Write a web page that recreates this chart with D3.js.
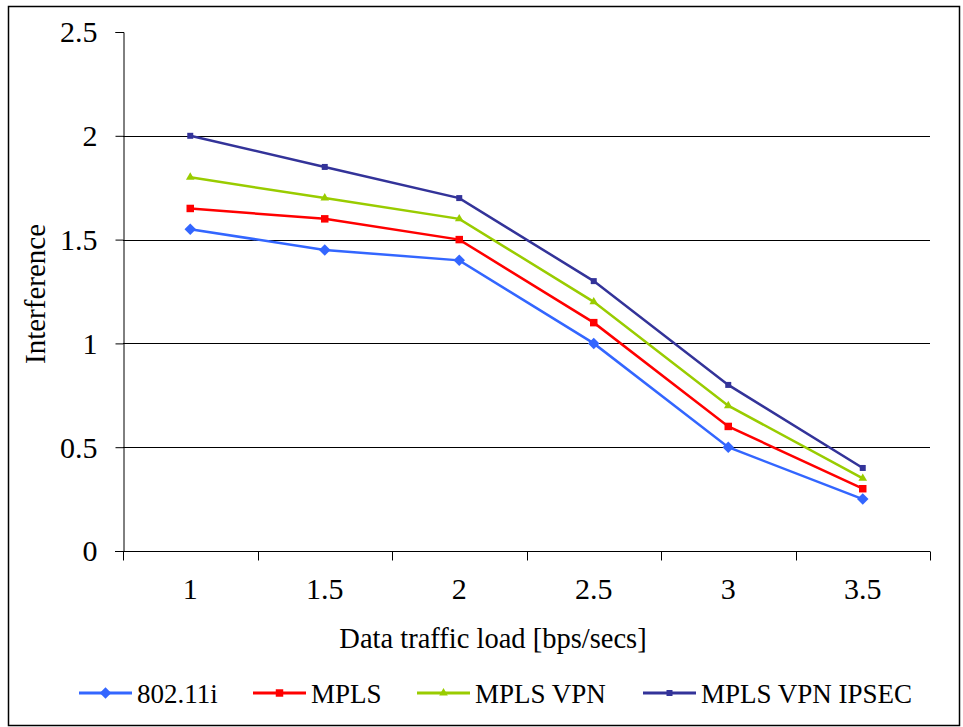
<!DOCTYPE html>
<html>
<head>
<meta charset="utf-8">
<script src="https://cdn.jsdelivr.net/npm/d3@7"></script>
<style>
  html, body { margin: 0; padding: 0; background: #fff; }
  svg, svg text { font-family: "Liberation Serif", "Times New Roman", serif; }
</style>
</head>
<body>
<svg id="chart" width="963" height="727"></svg>
<script>
// Data traffic load categories and interference per protocol
const loads = ["1", "1.5", "2", "2.5", "3", "3.5"];
const yTicks = [0, 0.5, 1, 1.5, 2, 2.5];
const seriesNames = ["802.11i", "MPLS", "MPLS VPN", "MPLS VPN IPSEC"];
const vals80211i = [1.55, 1.45, 1.4, 1.0, 0.5, 0.25];
const valsMpls = [1.65, 1.6, 1.5, 1.1, 0.6, 0.3];
const valsMplsVpn = [1.8, 1.7, 1.6, 1.2, 0.7, 0.35];
const valsIpsec = [2.0, 1.85, 1.7, 1.3, 0.8, 0.4];

const FONT = "'Liberation Serif', 'Times New Roman', serif";

const series = [
  { name: seriesNames[0], values: vals80211i, color: "#3366FF", marker: "diamond", size: 66 },
  { name: seriesNames[1], values: valsMpls, color: "#FF0000", marker: "square", size: 56 },
  { name: seriesNames[2], values: valsMplsVpn, color: "#99CC00", marker: "triangle", size: 32 },
  { name: seriesNames[3], values: valsIpsec, color: "#333399", marker: "square", size: 36 }
];

const svg = d3.select("#chart");

// outer frame
svg.append("rect")
  .attr("x", 8.5).attr("y", 6.5)
  .attr("width", 951).attr("height", 719)
  .attr("fill", "none").attr("stroke", "#000").attr("stroke-width", 1.5);

const plot = { left: 123, right: 930, top: 32, bottom: 551 };

const x = d3.scaleBand().domain(loads).range([plot.left, plot.right]).padding(0);
const y = d3.scaleLinear().domain([0, 2.5]).range([plot.bottom, plot.top]);

// horizontal gridlines
svg.append("g")
  .selectAll("line")
  .data(yTicks.filter(t => t > 0 && t < 2.5))
  .join("line")
  .attr("x1", plot.left).attr("x2", plot.right)
  .attr("y1", d => Math.round(y(d)) + 0.5).attr("y2", d => Math.round(y(d)) + 0.5)
  .attr("stroke", "#000").attr("stroke-width", 1);

// y axis
const yAxis = svg.append("g")
  .attr("transform", `translate(${plot.left + 0.5},0)`)
  .call(d3.axisLeft(y).tickValues(yTicks).tickSize(8).tickPadding(18)
    .tickFormat(d => String(d)));
yAxis.attr("font-family", FONT);
yAxis.select(".domain").attr("stroke", "#000");
yAxis.selectAll(".tick line").attr("stroke", "#000");
yAxis.selectAll(".tick text")
  .attr("font-size", 30).attr("fill", "#000")
  .attr("dy", "0.33em")
  .style("font-family", FONT);

// x axis: ticks at the category boundaries
const xAxisG = svg.append("g")
  .attr("transform", `translate(0,${plot.bottom + 0.5})`);
xAxisG.append("line")
  .attr("x1", plot.left - 8).attr("x2", plot.right)
  .attr("stroke", "#000");
const bounds = loads.map(l => x(l)).concat([x(loads[loads.length - 1]) + x.bandwidth()]);
xAxisG.selectAll("line.tk")
  .data(bounds)
  .join("line")
  .attr("class", "tk")
  .attr("x1", d => Math.round(d) + 0.5).attr("x2", d => Math.round(d) + 0.5)
  .attr("y1", 0).attr("y2", 9)
  .attr("stroke", "#000");
xAxisG.selectAll("text")
  .data(loads)
  .join("text")
  .attr("x", d => x(d) + x.bandwidth() / 2)
  .attr("y", 47)
  .attr("text-anchor", "middle")
  .attr("font-size", 30)
  .style("font-family", FONT)
  .text(d => d);

// axis titles
svg.append("text")
  .attr("x", 493)
  .attr("y", 648)
  .attr("text-anchor", "middle")
  .attr("font-size", 28.5)
  .style("font-family", FONT)
  .text("Data traffic load [bps/secs]");

svg.append("text")
  .attr("transform", "translate(45,294) rotate(-90)")
  .attr("text-anchor", "middle")
  .attr("font-size", 29)
  .style("font-family", FONT)
  .text("Interference");

// series lines and markers
const line = d3.line()
  .x((d, i) => x(loads[i]) + x.bandwidth() / 2)
  .y(d => y(d));

const symbolFor = m => m === "triangle" ? d3.symbolTriangle : d3.symbolSquare;
const rot = m => m === "diamond" ? " rotate(45)" : "";

series.forEach(s => {
  const g = svg.append("g");
  g.append("path")
    .datum(s.values)
    .attr("d", line)
    .attr("fill", "none")
    .attr("stroke", s.color)
    .attr("stroke-width", 2.5);
  g.selectAll("path.m")
    .data(s.values)
    .join("path")
    .attr("class", "m")
    .attr("transform", (d, i) => `translate(${x(loads[i]) + x.bandwidth() / 2},${y(d)})${rot(s.marker)}`)
    .attr("d", d3.symbol().type(symbolFor(s.marker)).size(s.size))
    .attr("fill", s.color);
});

// legend
const legendX = [79, 253, 417, 643];
const legendY = 693;
series.forEach((s, i) => {
  const g = svg.append("g").attr("transform", `translate(${legendX[i]},${legendY})`);
  g.append("line").attr("x1", 0).attr("x2", 53).attr("y1", 0).attr("y2", 0)
    .attr("stroke", s.color).attr("stroke-width", 3);
  g.append("path")
    .attr("transform", `translate(26.5,0)${rot(s.marker)}`)
    .attr("d", d3.symbol().type(symbolFor(s.marker)).size(s.size))
    .attr("fill", s.color);
  g.append("text")
    .attr("x", 58).attr("y", 10)
    .attr("font-size", 27)
    .style("font-family", FONT)
    .text(s.name);
});
</script>
</body>
</html>
